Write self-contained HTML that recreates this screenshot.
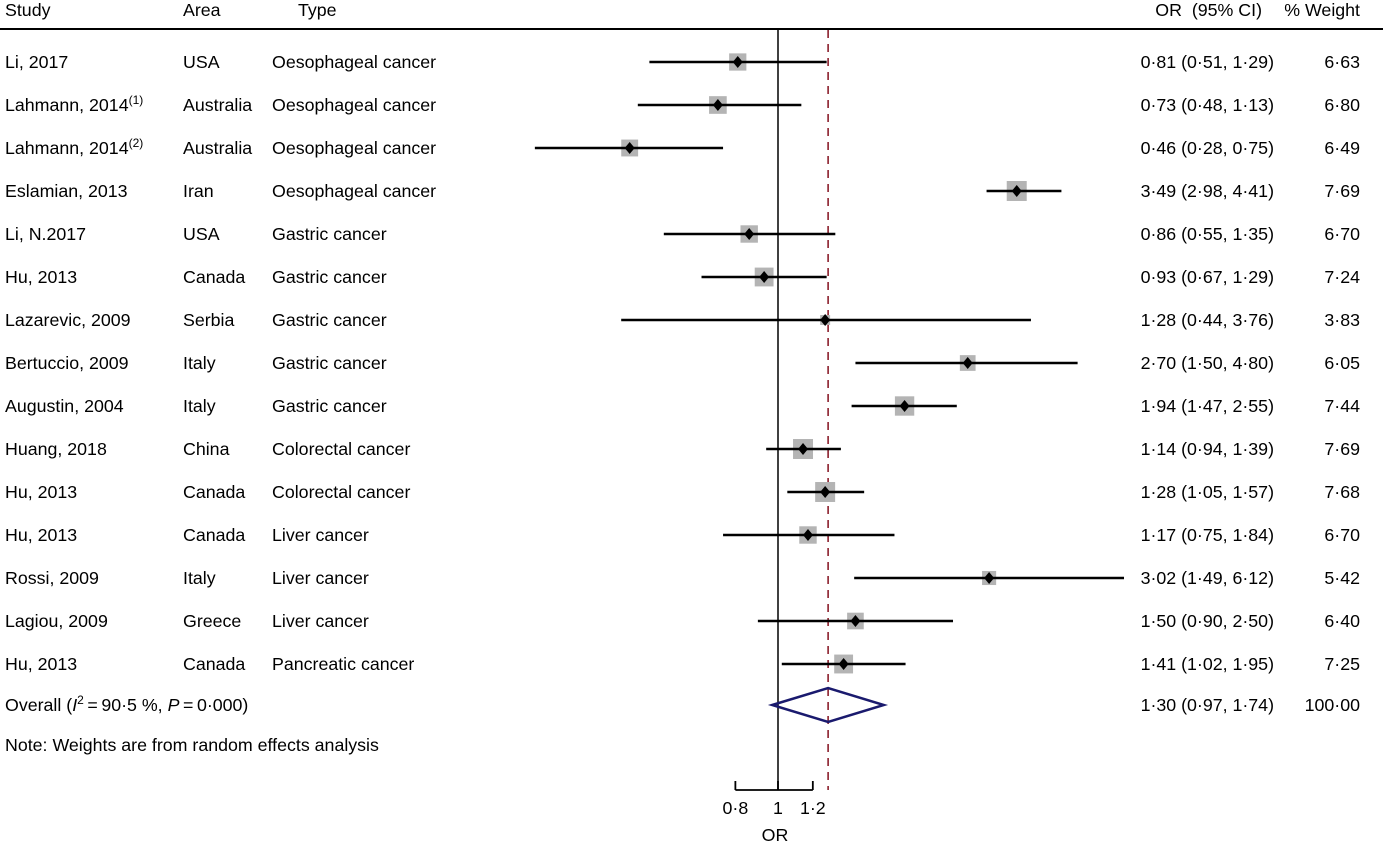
<!DOCTYPE html>
<html><head><meta charset="utf-8"><style>
html,body{margin:0;padding:0;background:#fff;}
svg{display:block;font-family:"Liberation Sans",Arial,sans-serif;}
</style></head><body>
<svg id="chart" width="1383" height="847" viewBox="0 0 1383 847" xmlns="http://www.w3.org/2000/svg">
<g font-size="17.8" fill="#000">
<text x="5" y="16">Study</text>
<text x="183" y="16">Area</text>
<text x="298" y="16">Type</text>
<text x="1262" y="16" text-anchor="end" xml:space="preserve">OR  (95% CI)</text>
<text x="1360" y="16" text-anchor="end">% Weight</text>
</g>
<line x1="0" y1="29" x2="1383" y2="29" stroke="#000" stroke-width="2"/>
<g id="plot"></g>
</svg>
<script>
const studies=["Li, 2017","Lahmann, 2014|1","Lahmann, 2014|2","Eslamian, 2013","Li, N.2017","Hu, 2013","Lazarevic, 2009","Bertuccio, 2009","Augustin, 2004","Huang, 2018","Hu, 2013","Hu, 2013","Rossi, 2009","Lagiou, 2009","Hu, 2013"];
const areas=["USA","Australia","Australia","Iran","USA","Canada","Serbia","Italy","Italy","China","Canada","Canada","Italy","Greece","Canada"];
const types=["Oesophageal cancer","Oesophageal cancer","Oesophageal cancer","Oesophageal cancer","Gastric cancer","Gastric cancer","Gastric cancer","Gastric cancer","Gastric cancer","Colorectal cancer","Colorectal cancer","Liver cancer","Liver cancer","Liver cancer","Pancreatic cancer"];
const orVals=[0.81,0.73,0.46,3.49,0.86,0.93,1.28,2.70,1.94,1.14,1.28,1.17,3.02,1.50,1.41];
const lowVals=[0.51,0.48,0.28,2.98,0.55,0.67,0.44,1.50,1.47,0.94,1.05,0.75,1.49,0.90,1.02];
const highVals=[1.29,1.13,0.75,4.41,1.35,1.29,3.76,4.80,2.55,1.39,1.57,1.84,6.12,2.50,1.95];
const weights=[6.63,6.80,6.49,7.69,6.70,7.24,3.83,6.05,7.44,7.69,7.68,6.70,5.42,6.40,7.25];
const overall=[1.30,0.97,1.74];
const overallWeight="100·00";
const tickVals=[0.8,1,1.2];
const tickLabels=["0·8","1","1·2"];

const NS="http://www.w3.org/2000/svg";
const FS=17.8;
const g=document.getElementById('plot');
const xScale=v=>778+191*Math.log(v);
const rowY=i=>62+43*i;
const fmt=v=>v.toFixed(2).replace('.','·');
function el(tag,attrs,parent){const e=document.createElementNS(NS,tag);for(const k in attrs)e.setAttribute(k,attrs[k]);(parent||g).appendChild(e);return e;}
function txt(x,y,s,anchor){const t=el('text',{x:x,y:y,'font-size':FS,'text-anchor':anchor||'start'});t.textContent=s;return t;}

let l=el('line',{x1:778,y1:30,x2:778,y2:790,stroke:'#000','stroke-width':1.5});


l=el('line',{x1:xScale(overall[0]),y1:30,x2:xScale(overall[0]),y2:790,stroke:'#8b1f2c','stroke-width':1.6,'stroke-dasharray':'8,6'});



for(let i=0;i<studies.length;i++){
  const y=rowY(i);
  const parts=studies[i].split('|');
  const st=txt(5,y+6,parts[0]);
  
  
  if(parts[1]){const ts=el('tspan',{dy:-7,'font-size':12},st);ts.textContent='('+parts[1]+')';}
  const a=txt(183,y+6,areas[i]);
  
  
  const t=txt(272,y+6,types[i]);
  
  
  const o=txt(1274,y+6,fmt(orVals[i])+' ('+fmt(lowVals[i])+', '+fmt(highVals[i])+')','end');
  
  
  const w=txt(1360,y+6,fmt(weights[i]),'end');
  
  
  const s=2.6*weights[i];
  const cx=xScale(orVals[i]);
  const b=el('rect',{x:cx-s/2,y:y-s/2,width:s,height:s,fill:'#b4b4b4'});
  
  
  const ci=el('line',{x1:xScale(lowVals[i]),y1:y,x2:xScale(highVals[i]),y2:y,stroke:'#000','stroke-width':2.5});
  
  
  const d=el('polygon',{points:`${cx},${y-6} ${cx+5},${y} ${cx},${y+6} ${cx-5},${y}`,fill:'#000'});
  
  
}
const oy=705;
const ot=txt(5,oy+6,'Overall (');


let ts=el('tspan',{'font-style':'italic'},ot);ts.textContent='I';
ts=el('tspan',{dy:-7,'font-size':12},ot);ts.textContent='2';
ts=el('tspan',{dy:7},ot);ts.textContent='\u2009=\u200990·5\u00a0%, ';
ts=el('tspan',{'font-style':'italic'},ot);ts.textContent='P';
ts=el('tspan',{},ot);ts.textContent='\u2009=\u20090·000)';
const od=el('polygon',{points:`${xScale(overall[1])},${oy} ${xScale(overall[0])},${oy-17} ${xScale(overall[2])},${oy} ${xScale(overall[0])},${oy+17}`,fill:'none',stroke:'#1a1a6e','stroke-width':2.5});


let t2=txt(1274,oy+6,fmt(overall[0])+' ('+fmt(overall[1])+', '+fmt(overall[2])+')','end');


t2=txt(1360,oy+6,overallWeight,'end');


t2=txt(5,751,'Note: Weights are from random effects analysis');


const ax=el('line',{x1:xScale(tickVals[0]),y1:790,x2:xScale(tickVals[tickVals.length-1]),y2:790,stroke:'#000','stroke-width':1.8});


for(let i=0;i<tickVals.length;i++){
  const x=xScale(tickVals[i]);
  const tk=el('line',{x1:x,y1:781,x2:x,y2:790,stroke:'#000','stroke-width':1.8});
  
  
  const tl=txt(x,814,tickLabels[i],'middle');
  
  
}
const xt=txt(775,841,'OR','middle');


</script>
</body></html>
